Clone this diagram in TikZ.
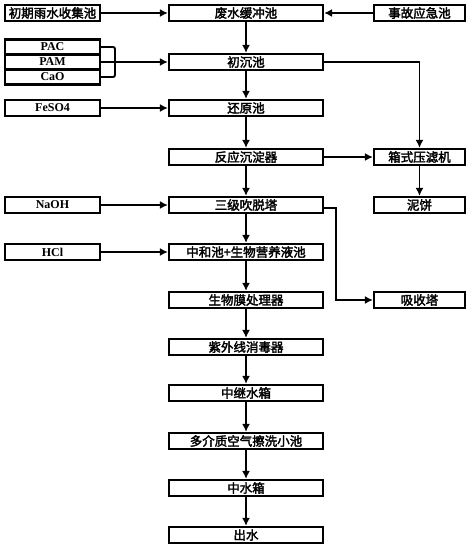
\documentclass[tikz,border=0pt]{standalone}
\usepackage{fontspec}
\setmainfont{Liberation Serif}
\newfontfamily\cjk{Noto Sans CJK SC}[AutoFakeBold=2.5]
\usetikzlibrary{arrows.meta}
\begin{document}
\begin{tikzpicture}[x=1pt,y=-1pt,
  box/.style={draw,line width=2.2pt,minimum height=16pt,inner sep=0pt,font=\cjk\bfseries\fontsize{12.5}{12.5}\selectfont},
  mainbox/.style={box,minimum width=154pt},
  leftbox/.style={box,minimum width=95pt},
  rightbox/.style={box,minimum width=91pt},
  latin/.style={font=\bfseries\fontsize{12}{12}\selectfont},
  conn/.style={line width=1.9pt,-{Latex[length=8pt,width=8pt]}},
  plain/.style={line width=1.9pt}]
\useasboundingbox (0,0) rectangle (471,549);
% main column
\node[mainbox] (buf) at (246,13) {废水缓冲池};
\node[mainbox] (chu) at (246,62) {初沉池};
\node[mainbox] (red) at (246,108) {还原池};
\node[mainbox] (rea) at (246,157) {反应沉淀器};
\node[mainbox] (str) at (246,205) {三级吹脱塔};
\node[mainbox] (neu) at (246,252) {中和池+生物营养液池};
\node[mainbox] (bio) at (246,300) {生物膜处理器};
\node[mainbox] (uv) at (246,347) {紫外线消毒器};
\node[mainbox] (relay) at (246,393) {中继水箱};
\node[mainbox] (multi) at (246,441) {多介质空气擦洗小池};
\node[mainbox] (mid) at (246,488) {中水箱};
\node[mainbox] (out) at (246,535) {出水};
% left column
\node[leftbox] (rain) at (52.5,13) {初期雨水收集池};
\node[leftbox,minimum height=15pt,latin] (pac) at (52.5,47) {PAC};
\node[leftbox,minimum height=15pt,latin] (pam) at (52.5,62) {PAM};
\node[leftbox,minimum height=15pt,latin] (cao) at (52.5,77) {CaO};
\node[leftbox,latin] (feso) at (52.5,108) {FeSO4};
\node[leftbox,latin] (naoh) at (52.5,205) {NaOH};
\node[leftbox,latin] (hcl) at (52.5,252) {HCl};
% right column
\node[rightbox] (acc) at (419.5,13) {事故应急池};
\node[rightbox] (press) at (419.5,157) {箱式压滤机};
\node[rightbox] (cake) at (419.5,205) {泥饼};
\node[rightbox] (abs) at (419.5,300) {吸收塔};
% main chain
\draw[conn] (buf) -- (chu);
\draw[conn] (chu) -- (red);
\draw[conn] (red) -- (rea);
\draw[conn] (rea) -- (str);
\draw[conn] (str) -- (neu);
\draw[conn] (neu) -- (bio);
\draw[conn] (bio) -- (uv);
\draw[conn] (uv) -- (relay);
\draw[conn] (relay) -- (multi);
\draw[conn] (multi) -- (mid);
\draw[conn] (mid) -- (out);
% inputs
\draw[conn] (rain) -- (buf);
\draw[conn] (acc) -- (buf);
\coordinate (j) at (115,62);
\draw[plain,rounded corners=2pt] (pac.east) -| (j) |- (cao.east);
\draw[plain] (pam.east) -- (j);
\draw[conn] (j) -- (chu.west);
\draw[conn] (feso) -- (red);
\draw[conn] (naoh) -- (str);
\draw[conn] (hcl) -- (neu);
% right side
\draw[conn] (chu.east) -| (press.north);
\draw[conn] (rea) -- (press);
\draw[conn] (press) -- (cake);
\coordinate (k) at (336,208);
\draw[conn] (str.east |- k) -- (k) |- (abs.west);
\end{tikzpicture}
\end{document}
